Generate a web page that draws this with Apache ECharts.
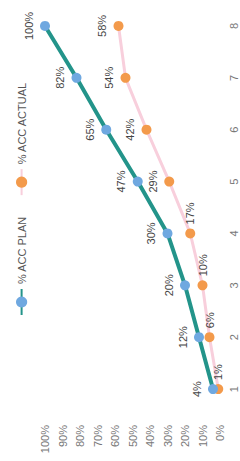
<!DOCTYPE html>
<html>
<head>
<meta charset="utf-8">
<script src="https://cdn.jsdelivr.net/npm/echarts@6/dist/echarts.min.js"></script>
<style>
  html, body { margin: 0; padding: 0; overflow: hidden; background: #fff; width: 240px; height: 461px; }
  /* chart is drawn upright (461x240) and turned a quarter turn left, like the photo */
  #chart {
    position: absolute; left: 0; top: 0;
    width: 461px; height: 240px;
    transform-origin: 0 0;
    transform: translateY(461px) rotate(-90deg);
  }
</style>
</head>
<body>
<div id="chart"></div>
<script>
const categories = ["1", "2", "3", "4", "5", "6", "7", "8"];
const accPlan = [4, 12, 20, 30, 47, 65, 82, 100];
const accActual = [1, 6, 10, 17, 29, 42, 54, 58];
const valueTicks = { min: 0, max: 100, interval: 10 };

const font = "Liberation Sans, Arial, sans-serif";

const myChart = echarts.init(document.getElementById("chart"), null, { renderer: "svg" });

myChart.setOption({
  animation: false,
  legend: {
    left: 140,
    top: 11,
    itemGap: 20,
    itemWidth: 26,
    textStyle: { color: "#555", fontSize: 11, fontFamily: font },
    data: ["% ACC PLAN", "% ACC ACTUAL"]
  },
  grid: {
    top: 45,
    left: 46,
    right: -15,
    bottom: 20,
    containLabel: false
  },
  xAxis: {
    type: "category",
    boundaryGap: true,
    data: categories,
    axisLine: { show: false },
    axisTick: { show: false },
    axisLabel: { color: "#777", fontSize: 11, fontFamily: font, margin: 8 }
  },
  yAxis: {
    type: "value",
    min: valueTicks.min,
    max: valueTicks.max,
    interval: valueTicks.interval,
    splitLine: { show: false },
    axisLabel: { color: "#777", fontSize: 11, fontFamily: font, margin: 10, formatter: "{value}%" }
  },
  series: [
    {
      name: "% ACC PLAN",
      type: "line",
      symbol: "circle",
      symbolSize: 10,
      lineStyle: { width: 4, color: "#23948a" },
      itemStyle: { color: "#6fa8e0" },
      label: {
        show: true,
        position: "top",
        distance: 6,
        formatter: "{c}%",
        color: "#444",
        fontSize: 11,
        fontFamily: font
      },
      z: 3,
      data: accPlan
    },
    {
      name: "% ACC ACTUAL",
      type: "line",
      symbol: "circle",
      symbolSize: 10,
      lineStyle: { width: 3, color: "#f8cfdc" },
      itemStyle: { color: "#f39a4b" },
      label: {
        show: true,
        position: "top",
        distance: 6,
        formatter: "{c}%",
        color: "#444",
        fontSize: 11,
        fontFamily: font
      },
      z: 2,
      // first points sit close to the plan line, their labels go to the right
      data: accActual.map((v, i) => i < 4
        ? { value: v, label: { position: "right", distance: 4 } }
        : v)
    }
  ]
});
</script>
</body>
</html>
